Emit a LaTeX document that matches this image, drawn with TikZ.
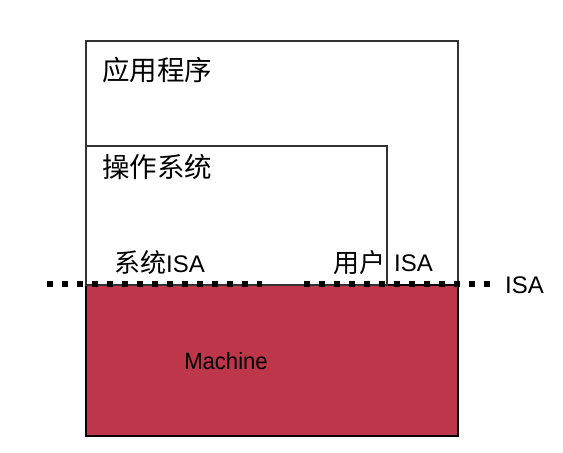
\documentclass[tikz,border=0pt]{standalone}
\usepackage{fontspec}
\setmainfont{Liberation Sans}
\newfontfamily\cjk{Noto Sans CJK SC}
\definecolor{machred}{RGB}{189,54,73}
\definecolor{edge}{RGB}{50,50,50}
\begin{document}
\begin{tikzpicture}[x=1pt,y=-1pt,
  boxline/.style={draw=edge,line width=1.6pt,inner sep=0pt,anchor=north west},
  cjklabel/.style={font=\cjk\fontsize{27.5}{29}\selectfont,inner sep=0pt},
  latlabel/.style={font=\fontsize{24}{26}\selectfont,inner sep=0pt},
  isadots/.style={line width=6pt,dash pattern=on 6pt off 9pt,draw=black}]
\useasboundingbox (0,0) rectangle (563,453);
\fill[white] (0,0) rectangle (563,453);
\node[boxline,minimum width=372pt,minimum height=395pt] (app) at (85,40) {};
\node[boxline,fill=machred,draw=black,minimum width=372pt,minimum height=151pt] (mach) at (85,284) {};
\node[boxline,minimum width=301pt,minimum height=139pt] (os) at (85,145) {};
\node[cjklabel,anchor=west] (tapp) at (102,70) {应用程序};
\node[cjklabel,anchor=west] (tos) at (102,167) {操作系统};
\node[cjklabel,anchor=west] (tsys) at (114,263) {\fontsize{26}{28}\selectfont 系统\fontsize{24}{26}\fontspec{Liberation Sans}ISA};
\node[cjklabel,anchor=east,font=\cjk\fontsize{26}{28}\selectfont] (tuser) at (386,263) {用户};
\node[latlabel,anchor=west] (tuisa) at (394,263) {ISA};
\node[latlabel,anchor=west] (tisa) at (505,285) {ISA};
\node[font=\fontsize{23.5}{25}\selectfont,inner sep=0pt,xscale=0.94] (tmach) at (226,361) {Machine};
\coordinate (dl1) at (47,284);
\coordinate (dl2) at (262,284);
\coordinate (dr1) at (304,284);
\coordinate (dr2) at (492,284);
\draw[isadots] (dl1) -- (dl2);
\draw[isadots] (dr1) -- (dr2);
\end{tikzpicture}
\end{document}
